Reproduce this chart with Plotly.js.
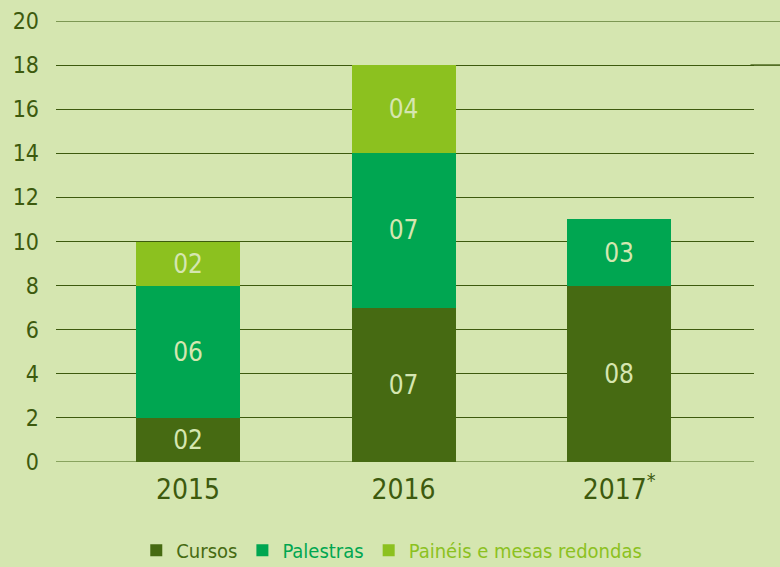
<!DOCTYPE html>
<html><head><meta charset="utf-8">
<script src="https://cdn.plot.ly/plotly-3.0.1.min.js"></script>
<style>html,body{margin:0;padding:0;background:#d5e6b0;}</style>
</head><body>
<div id="chart" style="width:780px;height:567px;"></div>
<script>
const categories = ["2015", "2016", "2017"];
const tickLabels = ["2015", "2016", "2017<sup>*</sup>"];
const cursos = [2, 7, 8];
const palestras = [6, 7, 3];
const paineis = [2, 4, 0];
const seriesNames = ["Cursos", "Palestras", "Painéis e mesas redondas"];
const seriesColors = ["#466a12", "#00a651", "#8cc11f"];

const fmt = v => v > 0 ? String(v).padStart(2, "0") : "";
const font = "'DejaVu Sans Condensed', 'Liberation Sans Narrow', sans-serif";

const mk = (vals, i) => ({
  type: "bar",
  x: categories,
  y: vals,
  name: `<span style="color:${seriesColors[i]}">${seriesNames[i]}</span>`,
  marker: {color: seriesColors[i], line: {width: 0}},
  width: 0.483,
  text: vals.map(fmt),
  textposition: "inside",
  insidetextanchor: "middle",
  textangle: 0,
  textfont: {family: font, size: 26, color: "#d5e6b0"},
  hoverinfo: "skip"
});

const data = [mk(cursos, 0), mk(palestras, 1), mk(paineis, 2)];

const layout = {
  width: 780, height: 567,
  paper_bgcolor: "#d5e6b0",
  plot_bgcolor: "#d5e6b0",
  margin: {l: 56, r: 26, t: 21, b: 105, autoexpand: false},
  barmode: "stack",
  showlegend: true,
  legend: {
    orientation: "h", x: 0.115, xanchor: "left", y: -0.2, yanchor: "middle",
    font: {family: font, size: 20, color: "#466a12"},
    traceorder: "normal", itemwidth: 30, bgcolor: "rgba(0,0,0,0)"
  },
  xaxis: {
    type: "category",
    range: [-0.613, 2.626],
    tickvals: categories,
    ticktext: tickLabels,
    tickfont: {family: font, size: 28, color: "#3d5a0e"},
    showgrid: false, zeroline: false, showline: false, ticks: "",
    ticklabelstandoff: 8
  },
  yaxis: {
    range: [0, 20],
    tickvals: [0, 2, 4, 6, 8, 10, 12, 14, 16, 18, 20],
    tickfont: {family: font, size: 23, color: "#3d5a0e"},
    showgrid: true, gridcolor: "#3d5a0e", gridwidth: 1,
    zeroline: false, showline: false, ticks: "",
    ticklabelstandoff: 16
  },
  shapes: [
    {type: "line", xref: "paper", yref: "y", x0: 0, x1: 1, y0: 0, y1: 0, line: {color: "#6f8c45", width: 1.5}, layer: "below"},
    {type: "line", xref: "paper", yref: "y", x0: 0, x1: 1.04, y0: 20, y1: 20, line: {color: "#5f7d35", width: 1.5}},
    {type: "line", xref: "paper", yref: "y", x0: 0.995, x1: 1.04, y0: 18, y1: 18, line: {color: "#3d5a0e", width: 1.5}}
  ]
};

Plotly.newPlot("chart", data, layout, {displayModeBar: false, staticPlot: true});
</script>
</body></html>
